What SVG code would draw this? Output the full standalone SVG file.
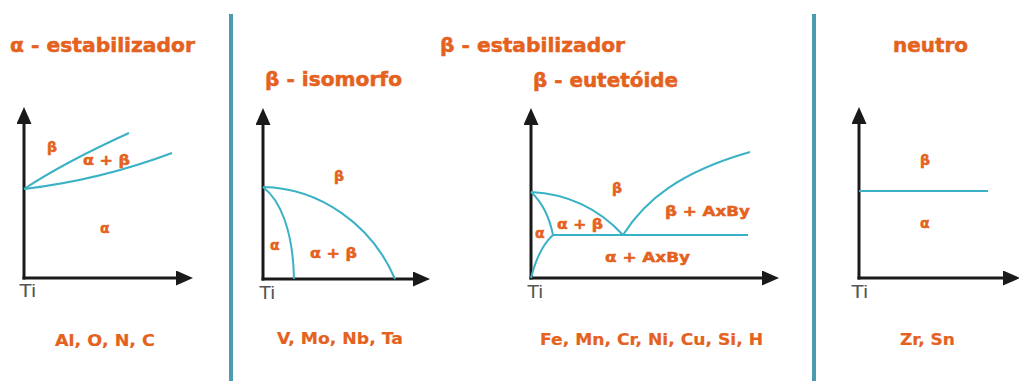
<svg xmlns="http://www.w3.org/2000/svg" width="1019" height="381" viewBox="0 0 1019 381">
<defs>
<style>
.t{font-family:"DejaVu Sans","Liberation Sans",sans-serif;font-weight:bold;fill:#e4621e;stroke:#e4621e;stroke-width:0.5}
.h{font-size:19px}
.l{font-size:14px}
.b{font-size:15px;stroke-width:0.2}
.ti{font-family:"Liberation Sans",Arial,sans-serif;font-size:18px;fill:#555}
.ax{stroke:#1a1a1a;stroke-width:3;fill:none}
.cv{stroke:#3ab2c5;stroke-width:2;fill:none}
.bar{fill:#4a9cae}
</style>
<marker id="ah" markerUnits="userSpaceOnUse" markerWidth="18" markerHeight="16" refX="0" refY="7.5" orient="auto" viewBox="0 0 18 16">
<path d="M0,0 L17,7.5 L0,15 z" fill="#1a1a1a"/>
</marker>
</defs>
<rect width="1019" height="381" fill="#fff"/>
<rect class="bar" x="229" y="14" width="4" height="367"/>
<rect class="bar" x="812" y="14" width="4" height="367"/>

<g id="titles">
<text class="t h" x="10" y="52" textLength="185" lengthAdjust="spacingAndGlyphs">α - estabilizador</text>
<text class="t h" x="440" y="52" textLength="185" lengthAdjust="spacingAndGlyphs">β - estabilizador</text>
<text class="t h" x="893" y="52" textLength="75" lengthAdjust="spacingAndGlyphs">neutro</text>
</g>

<g id="panel-alpha">
<line class="ax" x1="24" y1="279.5" x2="24" y2="124" marker-end="url(#ah)"/>
<line class="ax" x1="22.5" y1="278" x2="176" y2="278" marker-end="url(#ah)"/>
<text class="ti" x="19" y="297" textLength="17" lengthAdjust="spacingAndGlyphs">Ti</text>
<path class="cv" d="M24,189 Q65,162 129,133"/>
<path class="cv" d="M24,189 Q100,180 172,153"/>
<text class="t l" x="47" y="152">β</text>
<text class="t l" x="83" y="165" textLength="47" lengthAdjust="spacingAndGlyphs">α + β</text>
<text class="t l" x="100" y="233">α</text>
<text class="t b" x="55" y="346" textLength="100" lengthAdjust="spacingAndGlyphs">Al, O, N, C</text>
</g>

<g id="panel-isomorfo">
<text class="t h" x="265" y="86" textLength="137" lengthAdjust="spacingAndGlyphs">β - isomorfo</text>
<line class="ax" x1="263" y1="280.5" x2="263" y2="125" marker-end="url(#ah)"/>
<line class="ax" x1="261.5" y1="279" x2="413" y2="279" marker-end="url(#ah)"/>
<text class="ti" x="259" y="299" textLength="16" lengthAdjust="spacingAndGlyphs">Ti</text>
<path class="cv" d="M263,187 C320,188 372,225 395,279"/>
<path class="cv" d="M263,187 C280,200 293,230 294,279"/>
<text class="t l" x="334" y="181">β</text>
<text class="t l" x="270" y="250">α</text>
<text class="t l" x="310" y="258" textLength="47" lengthAdjust="spacingAndGlyphs">α + β</text>
<text class="t b" x="277" y="344" textLength="126" lengthAdjust="spacingAndGlyphs">V, Mo, Nb, Ta</text>
</g>

<g id="panel-eutetoide">
<text class="t h" x="533" y="87" textLength="145" lengthAdjust="spacingAndGlyphs">β - eutetóide</text>
<line class="ax" x1="531" y1="279.5" x2="531" y2="125" marker-end="url(#ah)"/>
<line class="ax" x1="529.5" y1="278" x2="762" y2="278" marker-end="url(#ah)"/>
<text class="ti" x="527" y="298" textLength="16" lengthAdjust="spacingAndGlyphs">Ti</text>
<path class="cv" d="M531,192 C570,194 600,210 623,235"/>
<path class="cv" d="M531,192 C545,205 550,220 553,235"/>
<path class="cv" d="M553,235 L748,235"/>
<path class="cv" d="M553,235 C542,245 535,262 531,278"/>
<path class="cv" d="M623,235 C645,200 680,172 750,152"/>
<text class="t l" x="612" y="193">β</text>
<text class="t l" x="665" y="216" textLength="85" lengthAdjust="spacingAndGlyphs">β + AxBy</text>
<text class="t l" x="557" y="229" textLength="46" lengthAdjust="spacingAndGlyphs">α + β</text>
<text class="t l" x="535" y="238">α</text>
<text class="t l" x="605" y="262" textLength="85" lengthAdjust="spacingAndGlyphs">α + AxBy</text>
<text class="t b" x="540" y="345" textLength="223" lengthAdjust="spacingAndGlyphs">Fe, Mn, Cr, Ni, Cu, Si, H</text>
</g>

<g id="panel-neutro">
<line class="ax" x1="859" y1="279.5" x2="859" y2="124" marker-end="url(#ah)"/>
<line class="ax" x1="857.5" y1="278" x2="1003" y2="278" marker-end="url(#ah)"/>
<text class="ti" x="851" y="298" textLength="17" lengthAdjust="spacingAndGlyphs">Ti</text>
<path class="cv" d="M859,191 L988,191"/>
<text class="t l" x="920" y="165">β</text>
<text class="t l" x="920" y="228">α</text>
<text class="t b" x="900" y="345" textLength="55" lengthAdjust="spacingAndGlyphs">Zr, Sn</text>
</g>
</svg>
